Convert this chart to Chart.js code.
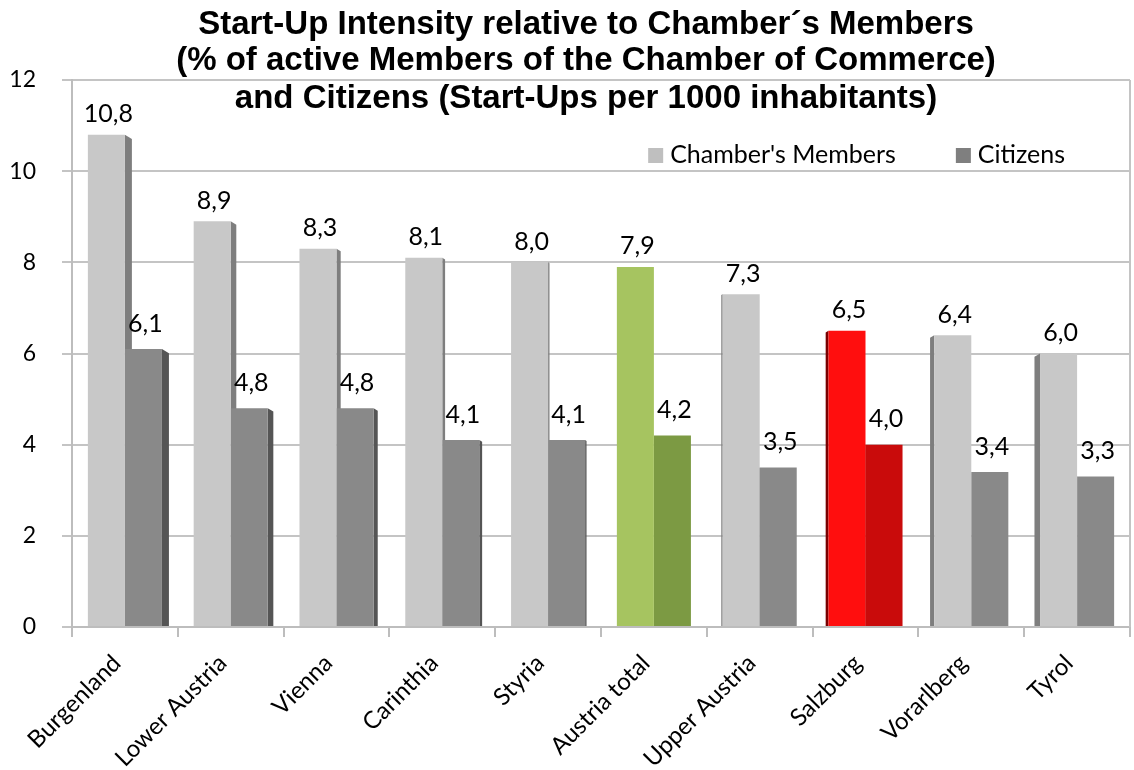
<!DOCTYPE html>
<html>
<head>
<meta charset="utf-8">
<script src="https://cdn.jsdelivr.net/npm/chart.js@4.4.0/dist/chart.umd.min.js"></script>
<style>
html, body { margin: 0; padding: 0; background: #fff; }
#wrap { width: 1134px; height: 770px; }
</style>
</head>
<body>
<div id="wrap"><canvas id="startups"></canvas></div>
<script>
var regions = ["Burgenland", "Lower Austria", "Vienna", "Carinthia", "Styria", "Austria total", "Upper Austria", "Salzburg", "Vorarlberg", "Tyrol"];
var chamberMembers = [10.8, 8.9, 8.3, 8.1, 8.0, 7.9, 7.3, 6.5, 6.4, 6.0];
var citizens = [6.1, 4.8, 4.8, 4.1, 4.1, 4.2, 3.5, 4.0, 3.4, 3.3];
var yTicks = [0, 2, 4, 6, 8, 10, 12];
var seriesNames = ["Chamber's Members", "Citizens"];
var titleLines = [
	"Start-Up Intensity relative to Chamber\u00b4s Members",
	"(% of active Members of the Chamber of Commerce)",
	"and Citizens (Start-Ups per 1000 inhabitants)"
];

// face / side colours: [members, citizens]
var faceColors = ["#c8c8c8", "#898989"];
var sideColors = ["#7e7e7e", "#555555"];
var legendColors = ["#bfbfbf", "#7f7f7f"];
var highlight = {
	"Austria total": { face: ["#a6c460", "#7c9a43"], side: ["#7c9a43", "#5d7530"] },
	"Salzburg": { face: ["#ff0e0e", "#c90b0b"], side: ["#7a0000", "#6a0000"] }
};

function barColors(s) {
	return regions.map(function (r) {
		return highlight[r] ? highlight[r].face[s] : faceColors[s];
	});
}

function sideColor(s, i) {
	var r = regions[i];
	return highlight[r] ? highlight[r].side[s] : sideColors[s];
}

function fmt(v) {
	return v.toFixed(1).replace(".", ",");
}

// fake 3D side faces, drawn behind the bars
var depthPlugin = {
	id: "depth",
	beforeDatasetsDraw: function (chart) {
		var ctx = chart.ctx;
		ctx.save();
		chart.data.datasets.forEach(function (ds, s) {
			chart.getDatasetMeta(s).data.forEach(function (bar, i) {
				var d = (5 - i) * 1.4;
				if (i === 5) return;
				var half = bar.width / 2;
				var edge = d > 0 ? bar.x + half : bar.x - half;
				ctx.fillStyle = sideColor(s, i);
				ctx.beginPath();
				ctx.moveTo(edge, bar.y);
				ctx.lineTo(edge + d, bar.y + Math.abs(d) * 0.6);
				ctx.lineTo(edge + d, bar.base);
				ctx.lineTo(edge, bar.base);
				ctx.closePath();
				ctx.fill();
			});
		});
		ctx.restore();
	}
};

// value labels with comma decimals
var labelPlugin = {
	id: "valueLabels",
	afterDatasetsDraw: function (chart) {
		var ctx = chart.ctx;
		ctx.save();
		ctx.font = "25px Lato";
		ctx.fillStyle = "#000";
		ctx.textAlign = "center";
		ctx.textBaseline = "bottom";
		chart.data.datasets.forEach(function (ds, s) {
			var gap = s === 0 ? 8 : 13;
			chart.getDatasetMeta(s).data.forEach(function (bar, i) {
				ctx.fillText(fmt(ds.data[i]), bar.x + 2, bar.y - gap);
			});
		});
		ctx.restore();
	}
};

// title, legend and right wall edge
var decorPlugin = {
	id: "decor",
	afterDraw: function (chart) {
		var ctx = chart.ctx;
		var area = chart.chartArea;
		ctx.save();

		ctx.strokeStyle = "#c4c4c4";
		ctx.lineWidth = 2;
		ctx.beginPath();
		ctx.moveTo(area.right, area.top);
		ctx.lineTo(area.right, area.bottom);
		ctx.stroke();

		// legend
		ctx.font = "25px Lato";
		ctx.textBaseline = "middle";
		ctx.textAlign = "left";
		var x = area.right - 65;
		var y = area.top + 75;
		for (var s = seriesNames.length - 1; s >= 0; s--) {
			var w = ctx.measureText(seriesNames[s]).width;
			x -= w;
			ctx.fillStyle = "#000";
			ctx.fillText(seriesNames[s], x, y);
			x -= 22;
			ctx.fillStyle = legendColors[s];
			ctx.fillRect(x, y - 7, 15, 15);
			x -= 60;
		}

		// title
		ctx.fillStyle = "#000";
		ctx.textAlign = "center";
		ctx.textBaseline = "alphabetic";
		ctx.font = "bold 33px 'Liberation Sans'";
		var base = [34, 70, 108];
		titleLines.forEach(function (line, k) {
			ctx.fillText(line, 586, base[k]);
		});
		ctx.restore();
	}
};

var ctx = document.getElementById("startups").getContext("2d");
new Chart(ctx, {
	type: "bar",
	data: {
		labels: regions,
		datasets: [{
			label: seriesNames[0],
			data: chamberMembers,
			backgroundColor: barColors(0),
			borderWidth: 0,
			barPercentage: 1,
			categoryPercentage: 0.7
		}, {
			label: seriesNames[1],
			data: citizens,
			backgroundColor: barColors(1),
			borderWidth: 0,
			barPercentage: 1,
			categoryPercentage: 0.7
		}]
	},
	options: {
		responsive: true,
		maintainAspectRatio: false,
		animation: false,
		layout: { padding: { top: 80, right: 4, left: 0, bottom: 0 } },
		plugins: {
			legend: { display: false },
			tooltip: { enabled: false }
		},
		scales: {
			x: {
				grid: { offset: true, drawOnChartArea: false, tickLength: 10, color: "#bdbdbd", lineWidth: 2 },
				border: { color: "#bdbdbd", width: 2 },
				ticks: { maxRotation: 45, minRotation: 45, labelOffset: -8, color: "#000", font: { family: "Lato", size: 24 }, padding: 12 },
				afterFit: function (axis) { axis.height = 143; }
			},
			y: {
				min: 0,
				max: 12,
				afterBuildTicks: function (axis) {
					axis.ticks = yTicks.map(function (v) { return { value: v }; });
				},
				ticks: { color: "#000", font: { family: "Lato", size: 23 }, padding: 26 },
				grid: { color: "#c4c4c4", lineWidth: 2, tickLength: 10 },
				border: { color: "#bdbdbd", width: 2 },
				afterFit: function (axis) { axis.width = 72; }
			}
		}
	},
	plugins: [depthPlugin, labelPlugin, decorPlugin]
});
</script>
</body>
</html>
